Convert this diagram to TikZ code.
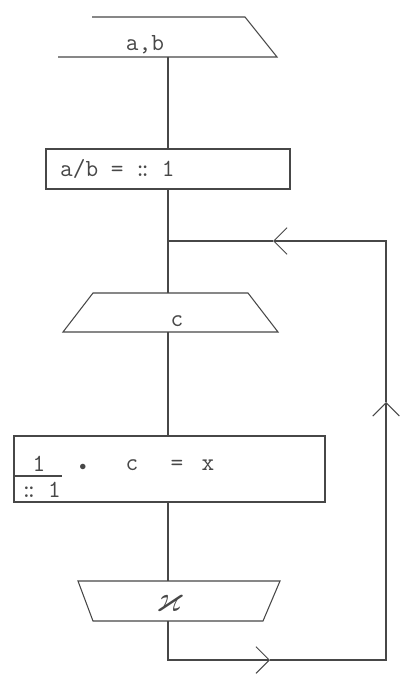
\documentclass[tikz,border=0pt]{standalone}
\usepackage{amsmath,amssymb}
\usepackage{xcolor}
\usepackage{tikz}
\usetikzlibrary{arrows.meta}

\newcommand{\smudge}{\makebox[0.525em]{:\kern-0.32em:}}

\begin{document}
\begin{tikzpicture}[x=0.03cm, y=-0.03cm,
  line/.style={draw=black!72, line width=0.9pt},
  txt/.style={font=\fontsize{21}{24}\selectfont\ttfamily, text=black!72,
              inner sep=0pt, anchor=base},
  back/.style={line, -{Straight Barb[length=4mm, width=8mm]}}
]
  \useasboundingbox[fill=white] (0,0) rectangle (405,685);

  % input a, b (no left side)
  \draw[line] (58,57) -- (277,57) -- (245,17) -- (92,17);
  \node[txt] (in) at (145,51) {a,b};
  \coordinate (in-s) at (168,57);

  % assignment box
  \draw[line] (46,149) rectangle (290,189);
  \node[txt, anchor=base west] (calc) at (60,177) {a/b = \smudge{} 1};
  \coordinate (calc-n) at (168,149);
  \coordinate (calc-s) at (168,189);

  % read c
  \draw[line] (93,293) -- (248,293) -- (278,332) -- (63,332) -- cycle;
  \node[txt] (read) at (177,326) {c};
  \coordinate (read-n) at (168,293);
  \coordinate (read-s) at (168,332);

  % formula box
  \draw[line] (14,436) rectangle (325,502);
  \draw[line] (14,476) -- (62,476);
  \node[txt] (f-num) at (39,471) {1};
  \node[txt, anchor=base east] (f-den) at (61,497) {\smudge{} 1};
  \node[txt] (f-dot) at (83,470) {\fontsize{12}{14}\selectfont$\bullet$};
  \node[txt] (f-c) at (132,470) {c};
  \node[txt] (f-eq) at (177,470) {=};
  \node[txt] (f-x) at (208,470) {x};
  \coordinate (form-n) at (168,436);
  \coordinate (form-s) at (168,502);

  % output
  \draw[line] (78,581) -- (280,581) -- (263,621) -- (93,621) -- cycle;
  \node[txt] (out) at (170,611) {\fontsize{32}{36}\selectfont$\varkappa$};
  \coordinate (out-n) at (168,581);
  \coordinate (out-s) at (168,621);

  % main line
  \draw[line] (in-s) -- (calc-n);
  \draw[line] (calc-s) -- (read-n);
  \draw[line] (read-s) -- (form-n);
  \draw[line] (form-s) -- (out-n);

  % loop back
  \coordinate (join) at (168,241);
  \coordinate (b-tip) at (270,660);
  \coordinate (r-tip) at (386,402);
  \coordinate (t-tip) at (273,241);
  \draw[back] (out-s) |- (b-tip);
  \draw[back] (b-tip) -| (r-tip);
  \draw[back] (r-tip) |- (t-tip);
  \draw[line] (t-tip) -- (join);
\end{tikzpicture}
\end{document}
